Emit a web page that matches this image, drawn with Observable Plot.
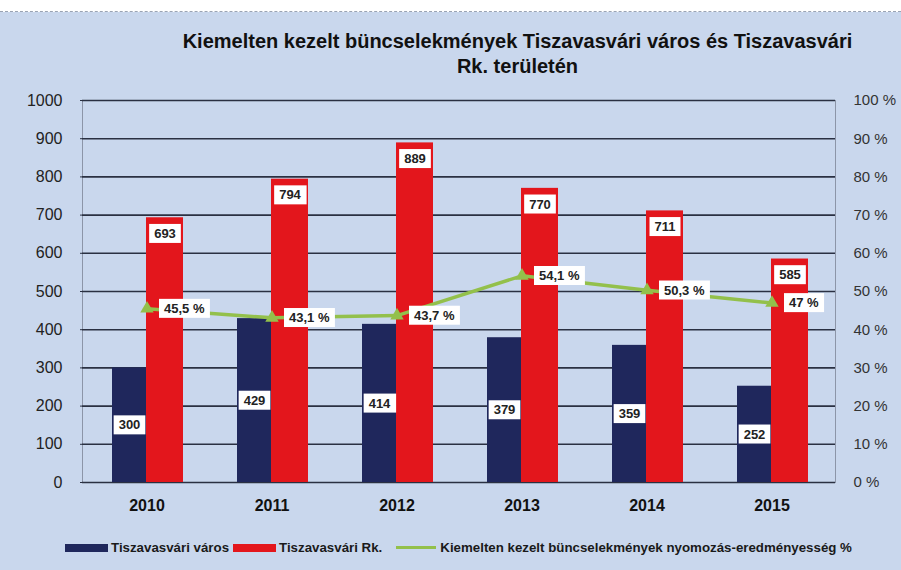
<!DOCTYPE html>
<html>
<head>
<meta charset="utf-8">
<script src="https://cdn.jsdelivr.net/npm/d3@7"></script>
<script src="https://cdn.jsdelivr.net/npm/@observablehq/plot@0.6"></script>
<style>
  html, body { margin: 0; padding: 0; }
  body { width: 901px; height: 570px; background: #c9d7ed; font-family: "Liberation Sans", Arial, sans-serif; overflow: hidden; }
  #strip { height: 11px; background: #ffffff; border-bottom: 1px dashed #9aa3b3; }
  #title { height: 76px; box-sizing: border-box; padding-top: 17px; padding-left: 134px; text-align: center; font-weight: bold; font-size: 20px; line-height: 25px; color: #111; }
  #legend { height: 45px; display: flex; align-items: center; padding-left: 65px; font-size: 13.3px; font-weight: bold; color: #1a1a1a; }
  .sw { display: inline-block; width: 43px; height: 8px; margin-right: 3px; }
  .ln { display: inline-block; width: 40px; height: 3px; margin-right: 4px; margin-left: 10px; }
  .item { display: flex; align-items: center; margin-right: 4px; }
</style>
</head>
<body>
<div id="strip"></div>
<div id="title">Kiemelten kezelt büncselekmények Tiszavasvári város és Tiszavasvári<br>Rk. területén</div>
<div id="chart"></div>
<div id="legend"></div>
<script>
const years = ["2010", "2011", "2012", "2013", "2014", "2015"];
const varos = [300, 429, 414, 379, 359, 252];
const rk = [693, 794, 889, 770, 711, 585];
const pct = [45.5, 43.1, 43.7, 54.1, 50.3, 47];
const pctLabels = ["45,5 %", "43,1 %", "43,7 %", "54,1 %", "50,3 %", "47 %"];
const yTicks = [0, 100, 200, 300, 400, 500, 600, 700, 800, 900, 1000];
const seriesNames = ["Tiszavasvári város", "Tiszavasvári Rk.", "Kiemelten kezelt büncselekmények nyomozás-eredményesség %"];

const colNavy = "#1f275c";
const colRed = "#e3161c";
const colGreen = "#93c04b";

const data = years.map((y, i) => ({year: y, varos: varos[i], rk: rk[i], pct: pct[i], pctLabel: pctLabels[i]}));

const chart = Plot.plot({
  width: 901,
  height: 437,
  marginLeft: 82,
  marginRight: 66,
  marginTop: 12,
  marginBottom: 43,
  style: {background: "transparent", fontFamily: "Liberation Sans, Arial, sans-serif"},
  x: {domain: years, padding: 0},
  y: {domain: [0, 1000]},
  marks: [
    Plot.frame({stroke: "#8c95a8", strokeWidth: 1}),
    Plot.ruleY(yTicks, {stroke: "#2a3042", strokeWidth: 1.6}),
    Plot.axisY(yTicks, {anchor: "left", tickSize: 2, tickPadding: 18, label: null, fontSize: 16, fill: "#222", stroke: "#2a3042", tickFormat: d => String(d)}),
    Plot.axisY(yTicks, {anchor: "right", tickSize: 0, tickPadding: 18, label: null, fontSize: 15, fill: "#333", tickFormat: d => (d / 10) + " %"}),
    Plot.axisX({tickSize: 0, tickPadding: 17, label: null, fontSize: 16, fontWeight: "bold", fill: "#111"}),
    Plot.barY(data, {x: "year", y: "varos", fill: colNavy, insetLeft: 28, insetRight: 63}),
    Plot.barY(data, {x: "year", y: "rk", fill: colRed, insetLeft: 62, insetRight: 26}),
    Plot.line(data, {x: "year", y: d => d.pct * 10, stroke: colGreen, strokeWidth: 3.5}),
    Plot.dot(data, {x: "year", y: d => d.pct * 10, symbol: "triangle", fill: colGreen, r: 5}),
    Plot.text(data, {x: "year", y: d => d.varos / 2, text: d => String(d.varos), dx: -17.5, fontSize: 13, fontWeight: "bold", fill: "#222"}),
    Plot.text(data, {x: "year", y: "rk", text: d => String(d.rk), dx: 18, dy: 16, fontSize: 13, fontWeight: "bold", fill: "#222"}),
    Plot.text(data, {x: "year", y: d => d.pct * 10, text: "pctLabel", dx: 17, textAnchor: "start", fontSize: 13, fontWeight: "bold", fill: "#222"})
  ]
});
document.getElementById("chart").appendChild(chart);

// white label boxes behind the data labels
chart.querySelectorAll('g[aria-label="text"] text').forEach(t => {
  const b = t.getBBox();
  const r = document.createElementNS("http://www.w3.org/2000/svg", "rect");
  r.setAttribute("x", b.x - 5);
  r.setAttribute("y", b.y - 2);
  r.setAttribute("width", b.width + 10);
  r.setAttribute("height", b.height + 4);
  r.setAttribute("fill", "#ffffff");
  if (t.getAttribute("transform")) r.setAttribute("transform", t.getAttribute("transform"));
  t.parentNode.insertBefore(r, t);
});

const legend = document.getElementById("legend");
legend.innerHTML =
  `<span class="item"><span class="sw" style="background:${colNavy}"></span>${seriesNames[0]}</span>` +
  `<span class="item"><span class="sw" style="background:${colRed}"></span>${seriesNames[1]}</span>` +
  `<span class="item"><span class="ln" style="background:${colGreen}"></span>${seriesNames[2]}</span>`;
</script>
</body>
</html>
